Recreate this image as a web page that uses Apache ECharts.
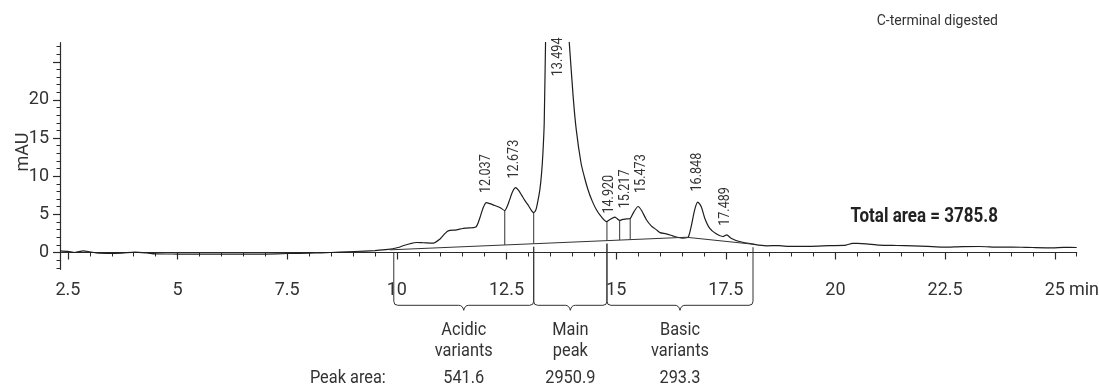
<!DOCTYPE html>
<html><head><meta charset="utf-8">
<script src="https://cdn.jsdelivr.net/npm/echarts@6/dist/echarts.min.js"></script>
<style>html,body{margin:0;padding:0;background:#fff}#c{width:1099px;height:387px}</style>
</head><body><div id="c"></div>
<script>
// ---------- data ----------
const traceTime = [2.32,2.5,2.66,2.85,3.0,3.2,3.5,3.73,4.03,4.3,4.5,5.0,5.5,6.0,6.5,7.0,7.52,8.0,8.28,8.7,9.04,9.5,9.8,10.03,
  10.14,10.3,10.45,10.6,10.83,10.98,11.1,11.17,11.36,11.5,11.59,11.8,11.89,11.97,12.04,12.12,12.19,12.35,12.46,12.52,12.57,12.64,12.71,12.78,12.84,12.92,12.99,13.07,13.12,13.17,13.22,13.26,13.3,13.33,13.36,13.39,13.42,13.5,13.6,13.7,13.82,13.93,
  14.02,14.09,14.2,14.28,14.36,14.45,14.55,14.66,14.78,14.85,14.97,15.02,15.08,15.15,15.23,15.32,15.4,15.5,15.58,15.69,15.8,15.92,16.0,16.14,16.29,16.4,16.52,16.64,16.71,16.79,16.86,16.94,17.02,17.13,17.28,17.43,17.52,17.62,17.81,18.12,18.42,18.72,18.95,19.4,19.86,20.24,20.39,20.5,20.7,21.0,21.4,21.76,22.1,22.45,22.9,23.28,23.74,24.04,24.5,24.95,25.2,25.5];
const traceMAU = [0.22,0.15,0.0,0.22,0.1,-0.08,-0.1,-0.08,0.05,-0.05,-0.17,-0.2,-0.22,-0.21,-0.22,-0.2,-0.13,-0.08,-0.04,0.05,0.13,0.26,0.4,0.66,
  0.88,1.15,1.31,1.28,1.23,1.75,2.5,2.84,2.97,3.15,3.2,3.33,4.5,5.9,6.55,6.4,6.25,5.9,5.5,6.1,6.9,8.0,8.5,8.1,7.56,6.8,6.25,5.5,5.24,5.6,6.9,8.2,10.4,13.0,17.0,27.5,33,42,46,44,36,27.6,
  20.4,16.1,11.7,9.8,8.2,6.8,5.6,4.7,4.06,4.3,4.64,4.45,4.2,4.35,4.4,4.46,5.3,6.03,5.5,4.3,3.5,2.97,2.6,2.45,2.19,2.0,1.88,2.0,3.4,5.6,6.6,6.0,4.5,3.2,2.45,2.1,2.3,1.88,1.44,1.1,0.88,0.9,0.8,0.8,0.9,0.97,1.2,1.2,1.14,0.97,0.92,0.88,0.8,0.7,0.78,0.79,0.7,0.72,0.66,0.62,0.68,0.66];

const peakTimes = [12.037, 12.673, 13.494, 14.920, 15.217, 15.473, 16.848, 17.489];
const peakLabelBase = [7.8, 9.7, 23.1, 5.1, 5.8, 7.8, 8.0, 3.5];   // mAU where each peak label starts

const baselineTime = [9.84, 16.6, 18.15];
const baselineMAU  = [0.35, 2.0, 1.07];

const dropTimes = [12.46, 13.12, 14.79, 15.08, 15.32];
const dropTops  = [5.5, 5.24, 4.06, 4.2, 4.46];

const regionBounds = [9.93, 13.12, 14.79, 18.12];
const regionNames  = ['Acidic\nvariants', 'Main\npeak', 'Basic\nvariants'];
const regionAreas  = ['541.6', '2950.9', '293.3'];
const totalArea = '3785.8';
const titleText = 'C-terminal digested';
const xUnit = 'min';
const yName = 'mAU';

const xMajorTicks = [2.5, 5, 7.5, 10, 12.5, 15, 17.5, 20, 22.5, 25];
const yLabelTicks = [0, 5, 10, 15, 20];
const yMajorTicks = [0, 5, 10, 15, 20, 25];
const xMinorTicks = []; for (let v = 2.5; v <= 25.5001; v += 0.5) xMinorTicks.push(+v.toFixed(1));
const yMinorTicks = []; for (let v = -2; v <= 27; v++) yMinorTicks.push(v);

// ---------- chart ----------
const X_MIN = 2.32, X_MAX = 25.5, Y_MIN = -2.2, Y_MAX = 27.5;
const FONT = "Roboto, 'Liberation Sans', sans-serif";
const INK = '#2a2a2a';
const TXT = '#333';
const AXIS_OFFSET = 4;
const NARROW = 0.86;   // horizontal squeeze to imitate the condensed face
const LABEL_GAP = 16;  // minimum spacing of peak labels, px

function baselineAt(t) {
  for (let i = 1; i < baselineTime.length; i++) {
    if (t <= baselineTime[i]) {
      const f = (t - baselineTime[i-1]) / (baselineTime[i] - baselineTime[i-1]);
      return baselineMAU[i-1] + f * (baselineMAU[i] - baselineMAU[i-1]);
    }
  }
  return baselineMAU[baselineMAU.length - 1];
}

// spread crowded peak labels apart (like the integrator does)
function labelXs(api) {
  const xs = peakTimes.map(t => api.coord([t, 0])[0]);
  const out = xs.slice();
  let i = 0;
  while (i < xs.length) {
    let j = i;
    while (j + 1 < xs.length && xs[j + 1] - xs[j] < LABEL_GAP) j++;
    if (j > i) {
      let m = 0; for (let k = i; k <= j; k++) m += xs[k];
      m /= (j - i + 1);
      for (let k = i; k <= j; k++) out[k] = m + (k - i - (j - i) / 2) * LABEL_GAP;
    }
    i = j + 1;
  }
  return out;
}

const chart = echarts.init(document.getElementById('c'), null, {renderer: 'canvas'});
const axisLineStyle = {color: INK, width: 1.2};

const option = {
  animation: false,
  backgroundColor: '#fff',
  title: {
    text: titleText, right: 96, top: 9,
    textStyle: {fontFamily: 'Roboto', fontSize: 14, fontWeight: 'normal', color: TXT}
  },
  grid: {left: 60, right: 22.3, top: 42.7, bottom: 117.7, containLabel: false, outerBoundsMode: 'none'},
  xAxis: [{
    type: 'value', min: X_MIN, max: X_MAX, position: 'bottom', offset: AXIS_OFFSET,
    axisLine: {show: true, lineStyle: axisLineStyle},
    axisTick: {show: true, customValues: xMajorTicks, length: 7, lineStyle: {color: INK, width: 1.2}},
    axisLabel: {
      customValues: xMajorTicks, fontFamily: FONT, fontSize: 18, color: TXT, margin: 8, hideOverlap: false,
      formatter: v => (v === xMajorTicks[xMajorTicks.length - 1]) ? `{h|${xUnit}}${v}{u|${xUnit}}` : String(v),
      rich: {
        h: {fontFamily: FONT, fontSize: 18, color: 'rgba(0,0,0,0)', padding: [0, 4, 0, 0]},
        u: {fontFamily: FONT, fontSize: 18, color: TXT, padding: [0, 0, 0, 4]}
      }
    },
    splitLine: {show: false}
  }, {
    type: 'value', min: X_MIN, max: X_MAX, position: 'bottom', offset: AXIS_OFFSET,
    axisLine: {show: false},
    axisTick: {show: true, customValues: xMinorTicks, length: 4, lineStyle: {color: INK, width: 1}},
    axisLabel: {show: false}, splitLine: {show: false}
  }],
  yAxis: [{
    type: 'value', min: Y_MIN, max: Y_MAX, position: 'left',
    axisLine: {show: true, lineStyle: axisLineStyle},
    axisTick: {show: true, customValues: yMajorTicks, length: 7, lineStyle: {color: INK, width: 1.2}},
    axisLabel: {customValues: yLabelTicks, fontFamily: FONT, fontSize: 18, color: TXT, margin: 11},
    splitLine: {show: false},
    name: yName, nameLocation: 'middle', nameGap: 28, nameRotate: 90, nameMoveOverlap: false,
    nameTextStyle: {fontFamily: FONT, fontSize: 18, color: TXT, padding: [0, 0, 0, 8]}
  }, {
    type: 'value', min: Y_MIN, max: Y_MAX, position: 'left',
    axisLine: {show: false},
    axisTick: {show: true, customValues: yMinorTicks, length: 3.5, lineStyle: {color: INK, width: 1}},
    axisLabel: {show: false}, splitLine: {show: false}
  }],
  graphic: [{
    type: 'text', x: 998, y: 216.7, scaleX: 0.85,
    style: {text: 'Total area = ' + totalArea, font: 'bold 20px ' + FONT, fill: '#222', align: 'right', verticalAlign: 'middle'}
  }],
  series: [{
    type: 'line', name: 'trace', xAxisIndex: 0, yAxisIndex: 0,
    data: traceTime.map((t, i) => [t, traceMAU[i]]),
    showSymbol: false, symbol: 'none', smooth: 0.25, clip: true,
    lineStyle: {color: '#1e1e1e', width: 1.2}, silent: true
  }, {
    type: 'line', name: 'baseline',
    data: baselineTime.map((t, i) => [t, baselineMAU[i]]),
    symbol: 'none', lineStyle: {color: '#333', width: 1}, silent: true
  }, {
    type: 'custom', name: 'drops', silent: true,
    data: dropTimes.map((t, i) => [t, dropTops[i]]),
    renderItem: function (params, api) {
      const t = api.value(0);
      const p1 = api.coord([t, api.value(1)]);
      const p2 = api.coord([t, baselineAt(t)]);
      return {type: 'line', shape: {x1: p1[0], y1: p1[1], x2: p2[0], y2: p2[1]},
              style: {stroke: '#333', lineWidth: 1}};
    }
  }, {
    type: 'custom', name: 'regions', silent: true, clip: false,
    data: regionNames.map((n, i) => [regionBounds[i], regionBounds[i+1], i]),
    renderItem: function (params, api) {
      const s = api.value(0), e = api.value(1), idx = api.value(2);
      const x0 = api.coord([s, 0])[0], x1 = api.coord([e, 0])[0];
      const axisY = api.coord([s, Y_MIN])[1] + AXIS_OFFSET;
      const top0 = api.coord([s, baselineAt(s)])[1] + 3;
      const top1 = api.coord([e, baselineAt(e)])[1] + 3;
      const yH = axisY + 32, r = 4, xc = (x0 + x1) / 2;
      const d = `M${x0},${top0} L${x0},${yH - r} Q${x0},${yH} ${x0 + r},${yH} L${xc - 5},${yH} ` +
                `Q${xc - 1},${yH} ${xc},${yH + 5} Q${xc + 1},${yH} ${xc + 5},${yH} L${x1 - r},${yH} ` +
                `Q${x1},${yH} ${x1},${yH - r} L${x1},${top1}`;
      const children = [
        {type: 'path', shape: {pathData: d}, style: {fill: 'none', stroke: '#333', lineWidth: 1}},
        {type: 'text', x: xc, y: axisY + 67.5, scaleX: NARROW,
         style: {text: regionNames[idx], align: 'center', verticalAlign: 'middle',
          font: '19px ' + FONT, lineHeight: 21.7, fill: TXT}},
        {type: 'text', x: xc, y: axisY + 104.7, scaleX: NARROW,
         style: {text: regionAreas[idx], align: 'center', verticalAlign: 'middle', font: '19px ' + FONT, fill: TXT}}
      ];
      if (idx === 0) {
        children.push({type: 'text', x: x0 - 8, y: axisY + 104.7, scaleX: NARROW,
          style: {text: 'Peak area:', align: 'right', verticalAlign: 'middle', font: '19px ' + FONT, fill: TXT}});
      }
      return {type: 'group', children: children};
    }
  }, {
    type: 'custom', name: 'peakLabels', silent: true, clip: false,
    data: peakTimes.map((t, i) => [t, peakLabelBase[i], i]),
    renderItem: function (params, api) {
      const t = api.value(0), idx = api.value(2);
      const p = api.coord([t, api.value(1)]);
      const xs = labelXs(api);
      const shift = (t === 13.494) ? 8 : 0;   // main-peak label sits between the two walls
      return {type: 'text', x: xs[idx] + shift, y: p[1], rotation: Math.PI / 2, scaleX: 0.9,
              style: {text: t.toFixed(3), align: 'left', verticalAlign: 'middle', font: '14px ' + FONT, fill: TXT}};
    }
  }]
};
chart.setOption(option);
</script>
</body></html>
